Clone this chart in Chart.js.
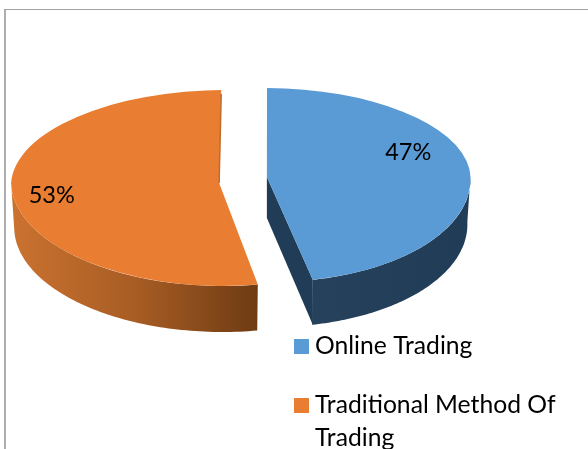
<!DOCTYPE html>
<html>
<head>
<meta charset="utf-8">
<script src="https://cdn.jsdelivr.net/npm/chart.js@4"></script>
<style>
html,body{margin:0;padding:0;background:#fff;overflow:hidden;width:588px;height:449px}
#frame{position:absolute;left:4px;top:9px;width:700px;height:600px;border-left:2px solid #adadad;border-top:1px solid #a3a3a3}
canvas{position:absolute;left:0;top:0}
</style>
</head>
<body>
<div id="frame"></div>
<canvas id="c" width="588" height="449"></canvas>
<script>
const categories = ['Online Trading', ['Traditional Method Of', 'Trading']];
const shares = [47, 53];
const sliceColors = ['#5b9bd5', '#e97d31'];

// 3D look of the pie (view geometry only)
const apexY = [177, 183];
const topRy = [89, 93];
const bottomRy = [105, 103];
const topShear = [0.0147, -0.0285];
const bottomShear = [0.0235, 0.017];
const depth = [45, 46];
const apexDepth = 41;
const floorScale = 0.985;
const wallStops = [
  [['#25415c', 0], ['#213c56', 1]],
  [['#cb7230', 0], ['#a85d24', 0.5], ['#6e3b13', 1]]
];
const labelFrac = [0.75, 0.815];
const labelTurn = [-15.9, -2.8];

const TXT = 'Lato, Carlito, sans-serif';

function geom(arc, i) {
  const off = (arc.options.offset || 0) / 4;
  const fix = 1 - Math.sin(Math.min(Math.PI, arc.circumference));
  const half = (arc.startAngle + arc.endAngle) / 2;
  const r = arc.outerRadius + off * fix;
  // Chart.js narrows an offset slice by this angle at each end
  const inset = (off * fix / Math.PI) / (2 * r);
  return {
    ax: arc.x + Math.cos(half) * off,
    ay: arc.y + Math.sin(half) * off,
    r, half,
    start: arc.startAngle + inset,
    end: arc.endAngle - inset
  };
}
function project(i, g, angle, radius) {
  const dx = Math.cos(angle) * radius, dy = Math.sin(angle) * radius;
  const up = dy < 0;
  const k = (up ? topRy[i] : bottomRy[i]) / g.r;
  const sh = up ? topShear[i] : bottomShear[i];
  return [g.ax + dx + sh * dy, apexY[i] + dy * k];
}
function drawWall(ctx, arc, i, g) {
  const a0 = Math.max(g.start, 0), a1 = Math.min(g.end, Math.PI);
  if (a1 <= a0) return;
  const steps = 80;
  const top = [], low = [];
  for (let s = 0; s <= steps; s++) {
    const a = a0 + (a1 - a0) * s / steps;
    top.push(project(i, g, a, g.r));
    const p = project(i, g, a, g.r * floorScale);
    low.push([p[0], apexY[i] + (p[1] - apexY[i]) / floorScale + depth[i]]);
  }
  const xs = top.map(p => p[0]);
  const grad = ctx.createLinearGradient(Math.min(...xs), 0, Math.max(...xs), 0);
  wallStops[i].forEach(s => grad.addColorStop(s[1], s[0]));
  ctx.fillStyle = grad;
  ctx.beginPath();
  top.forEach((p, n) => n ? ctx.lineTo(p[0], p[1]) : ctx.moveTo(p[0], p[1]));
  low.reverse().forEach(p => ctx.lineTo(p[0], p[1]));
  ctx.closePath();
  ctx.fill();
  // radial cut face, only seen when it turns towards the viewer
  if (g.end < Math.PI) {
    const e = project(i, g, g.end, g.r);
    ctx.fillStyle = wallStops[i][wallStops[i].length - 1][0];
    ctx.beginPath();
    ctx.moveTo(g.ax, apexY[i]);
    ctx.lineTo(e[0], e[1]);
    ctx.lineTo(e[0], e[1] + depth[i]);
    ctx.lineTo(g.ax, apexY[i] + apexDepth);
    ctx.closePath();
    ctx.fill();
  }
}
function drawFace(chart, arc, i, g) {
  const ctx = chart.ctx;
  [[true, topRy[i], topShear[i]], [false, bottomRy[i], bottomShear[i]]].forEach(h => {
    const k = h[1] / g.r, sh = h[2];
    ctx.save();
    ctx.beginPath();
    if (h[0]) ctx.rect(0, 0, chart.width, apexY[i] + 0.5);
    else ctx.rect(0, apexY[i] - 0.5, chart.width, chart.height);
    ctx.clip();
    ctx.transform(1, 0, sh, k, -sh * g.ay, apexY[i] - k * g.ay);
    arc.draw(ctx, chart.chartArea);
    ctx.restore();
  });
}

const pie3d = {
  id: 'pie3d',
  beforeDraw(chart) {
    const lg = chart.legend;
    lg.left = 266.05; lg.top = 299.85; lg.right = 588; lg.bottom = 1200;
    lg.width = 321.95; lg.height = 900;
  },
  beforeDatasetDraw(chart, args) {
    const ctx = chart.ctx, arcs = args.meta.data;
    arcs.forEach((arc, i) => drawWall(ctx, arc, i, geom(arc, i)));
    arcs.forEach((arc, i) => drawFace(chart, arc, i, geom(arc, i)));
    // thin inner edge of the orange slice, along its closing side
    const g = geom(arcs[1], 1);
    const tip = project(1, g, g.end, g.r);
    ctx.save();
    ctx.strokeStyle = '#bf6c2a';
    ctx.lineWidth = 1.5;
    ctx.beginPath();
    ctx.moveTo(tip[0], tip[1] + 4);
    ctx.lineTo(g.ax, apexY[1]);
    ctx.stroke();
    ctx.restore();
    return false;
  },
  afterDatasetsDraw(chart) {
    const ctx = chart.ctx;
    const meta = chart.getDatasetMeta(0);
    ctx.save();
    ctx.font = '23.5px ' + TXT;
    ctx.fillStyle = '#000';
    ctx.textAlign = 'center';
    ctx.textBaseline = 'middle';
    meta.data.forEach((arc, i) => {
      const g = geom(arc, i);
      const a = g.half + labelTurn[i] * Math.PI / 180;
      const p = project(i, g, a, g.r * labelFrac[i]);
      ctx.fillText(shares[i] + '%', p[0], p[1]);
    });
    ctx.restore();
  }
};

new Chart(document.getElementById('c'), {
  type: 'pie',
  data: {
    labels: categories,
    datasets: [{
      data: shares,
      backgroundColor: sliceColors,
      borderWidth: 0,
      offset: 96,
      hoverOffset: 96,
      radius: 184
    }]
  },
  options: {
    responsive: false,
    animation: false,
    layout: { padding: { left: 0, right: 102, top: 0, bottom: 0 } },
    plugins: {
      tooltip: { enabled: false },
      legend: {
        position: 'chartArea',
        align: 'start',
        labels: {
          boxWidth: 2.3,
          boxHeight: 2.3,
          padding: 34.3,
          color: '#000',
          font: { family: TXT, size: 24.7, lineHeight: 1.336 },
          generateLabels(chart) {
            return Chart.overrides.pie.plugins.legend.labels.generateLabels(chart)
              .map(it => Object.assign(it, { strokeStyle: it.fillStyle, lineWidth: 12.7 }));
          }
        }
      }
    }
  },
  plugins: [pie3d]
});
</script>
</body>
</html>
